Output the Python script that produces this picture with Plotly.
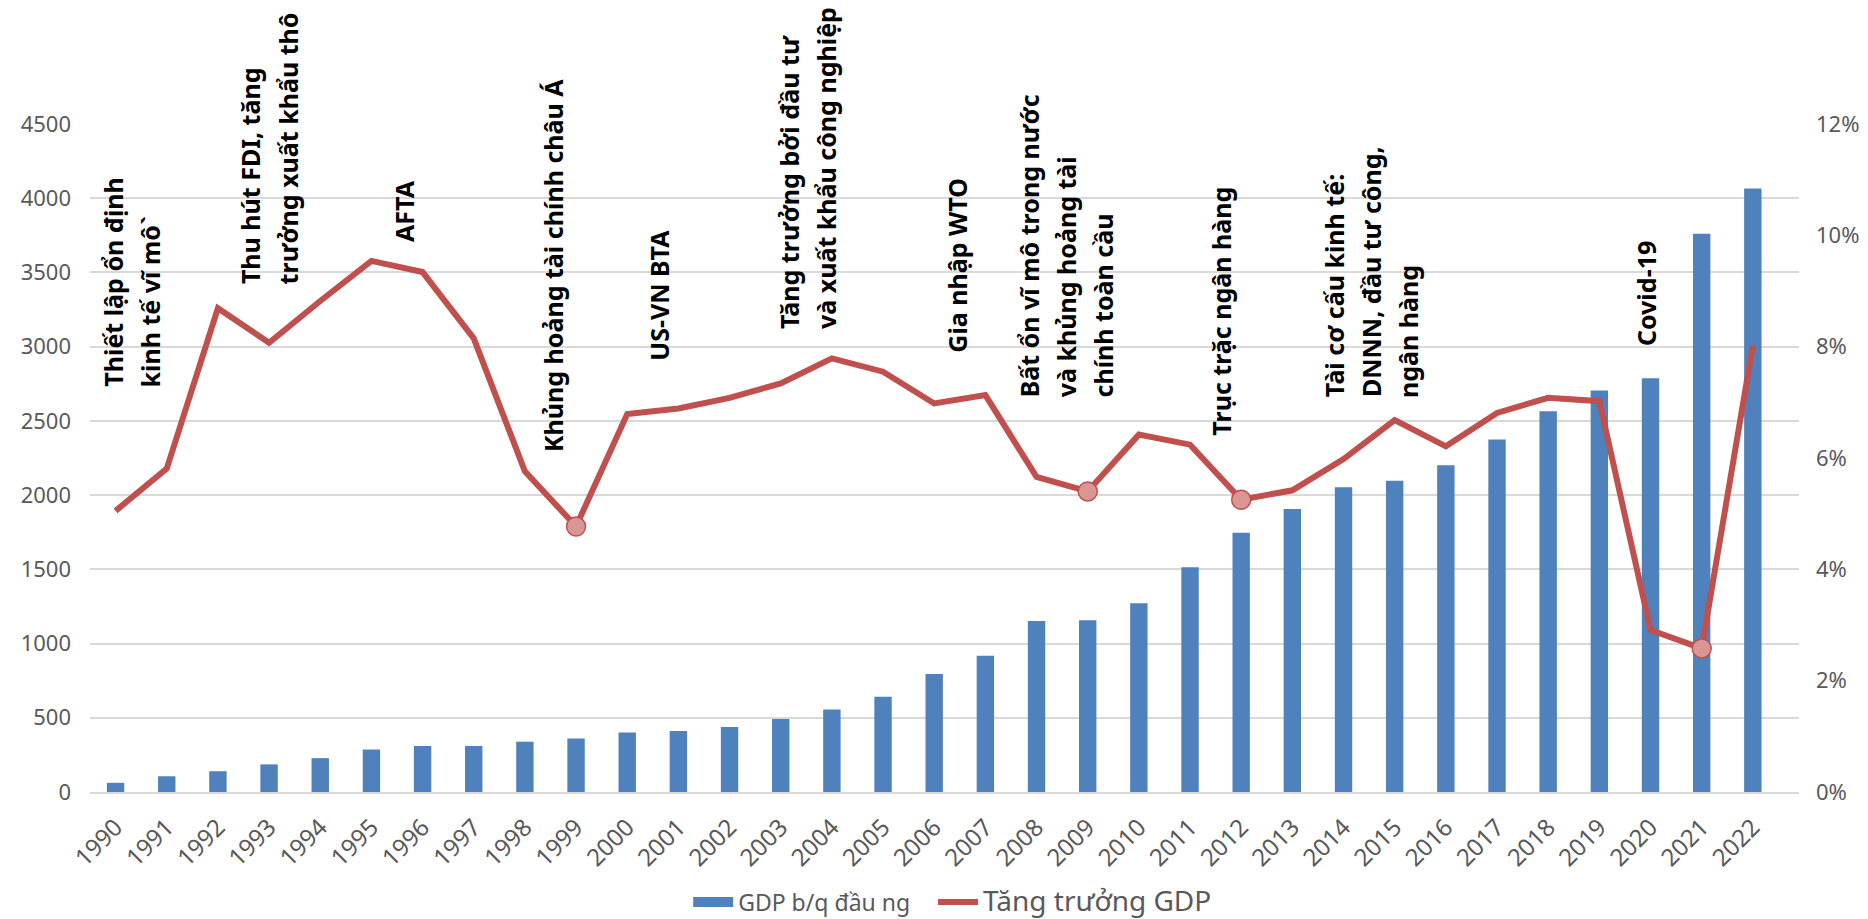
import plotly.graph_objects as go

years = [str(y) for y in range(1990, 2023)]

gdp_per_capita = [62, 106, 140, 186, 228, 286, 310, 310, 339, 361,
                  400, 411, 438, 492, 555, 642, 795, 918, 1152, 1157,
                  1271, 1514, 1747, 1907, 2053, 2096, 2201, 2374, 2565, 2705,
                  2787, 3760, 4066]

gdp_growth = [5.05, 5.81, 8.69, 8.07, 8.82, 9.54, 9.34, 8.15, 5.76, 4.77,
              6.79, 6.89, 7.08, 7.34, 7.79, 7.55, 6.98, 7.13, 5.66, 5.40,
              6.42, 6.24, 5.25, 5.42, 5.98, 6.68, 6.21, 6.81, 7.08, 7.02,
              2.91, 2.58, 8.02]

marked_years = ['1999', '2009', '2012', '2021']

events = ["Thiết lập ổn định<br>kinh tế vĩ mô`",
          "Thu hút FDI, tăng<br>trưởng xuất khẩu thô",
          "AFTA",
          "Khủng hoảng tài chính châu Á",
          "US-VN BTA",
          "Tăng trưởng bởi đầu tư<br>và xuất khẩu công nghiệp",
          "Gia nhập WTO",
          "Bất ổn vĩ mô trong nước<br>và khủng hoảng tài<br>chính toàn cầu",
          "Trục trặc ngân hàng",
          "Tài cơ cấu kinh tế:<br>DNNN, đầu tư công,<br>ngân hàng",
          "Covid-19"]

# where each rotated label sits: category position and left-axis value of its bottom end
event_x = [0.32, 3.0, 5.65, 8.55, 10.63, 13.52, 16.44, 18.58, 21.61, 24.54, 29.91]
event_y = [2720, 3416, 3696, 2280, 2898, 3111, 2954, 2651, 2392, 2651, 3000]
line_gap = 0.72  # spacing between text lines, in category units

growth_frac = [g / 100 for g in gdp_growth]
marked_growth = [growth_frac[years.index(y)] for y in marked_years]

grey = '#595959'
font = 'Noto Sans'
blue = '#4F81BD'
red = '#C0504D'

fig = go.Figure()

fig.add_trace(go.Bar(x=years, y=gdp_per_capita, name='GDP b/q đầu ng', showlegend=False,
                     marker=dict(color=blue, line=dict(width=0))))

# legend swatch for the bars (wide rectangle like the original)
fig.add_trace(go.Scatter(x=[None], y=[None], mode='lines',
                         name='GDP b/q đầu ng\u00a0\u00a0\u00a0',
                         line=dict(color=blue, width=15)))

fig.add_trace(go.Scatter(x=years, y=growth_frac, yaxis='y2', mode='lines',
                         name="<span style='font-size:28px'>Tăng trưởng GDP</span>",
                         line=dict(color=red, width=6)))

fig.add_trace(go.Scatter(x=marked_years, y=marked_growth, yaxis='y2', mode='markers',
                         showlegend=False,
                         marker=dict(size=19, color='#D99694',
                                     line=dict(color=red, width=1.5))))

for txt, ex, ey in zip(events, event_x, event_y):
    lines = txt.split('<br>')
    n = len(lines)
    for i, ln in enumerate(lines):
        fig.add_annotation(x=ex + (i - (n - 1) / 2) * line_gap, y=ey, xref='x', yref='y',
                           text=ln, showarrow=False, textangle=-90,
                           xanchor='center', yanchor='bottom', borderpad=0,
                           font=dict(family=font, size=25, color='black', weight='bold'))

fig.update_layout(
    width=1868, height=919,
    margin=dict(l=90, r=69, t=124, b=127),
    plot_bgcolor='white', paper_bgcolor='white',
    font=dict(family=font, size=22, color=grey),
    bargap=0.66,
    xaxis=dict(type='category', tickangle=-45, showgrid=False, automargin=False,
               showline=True, linecolor='#D9D9D9', linewidth=1.5,
               tickfont=dict(size=24, color=grey), ticks='', ticklabelstandoff=10),
    yaxis=dict(range=[0, 4500], dtick=500, showgrid=True, gridcolor='#D9D9D9',
               gridwidth=1.5, zeroline=False, ticks='', ticklabelstandoff=18,
               automargin=False, tickfont=dict(size=22, color=grey)),
    yaxis2=dict(overlaying='y', side='right', range=[0, 0.12], dtick=0.02,
                tickformat='.0%', showgrid=False, zeroline=False, ticks='',
                ticklabelstandoff=16, automargin=False,
                tickfont=dict(size=22, color=grey)),
    legend=dict(orientation='h', xref='container', yref='container',
                x=0.51, xanchor='center', y=0.0185, yanchor='middle',
                font=dict(size=23, color=grey), itemwidth=40,
                bgcolor='rgba(0,0,0,0)'),
    showlegend=True,
)

fig.write_html("out.html", config={'displayModeBar': False},
               post_script="document.body.style.margin='0';")
